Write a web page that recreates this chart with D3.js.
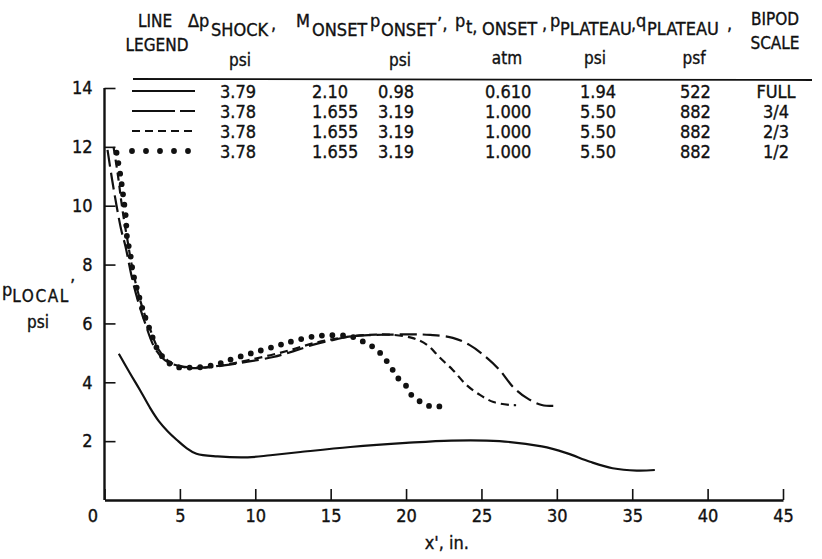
<!DOCTYPE html>
<html>
<head>
<meta charset="utf-8">
<script src="https://cdn.jsdelivr.net/npm/d3@7"></script>
<style>
  html, body { margin: 0; padding: 0; background: #fff; }
  svg { display: block; }
  text { fill: #111; stroke: #111; stroke-width: 0.35; font-family: "DejaVu Sans Condensed", "DejaVu Sans", sans-serif; }
</style>
</head>
<body>
<svg id="chart" width="822" height="559"></svg>
<script>
// ---------------- DATA ----------------
const xTicks = [0, 5, 10, 15, 20, 25, 30, 35, 40, 45];
const yTicks = [2, 4, 6, 8, 10, 12, 14];

// legend table rows
const dpShock   = ["3.79", "3.78", "3.78", "3.78"];
const mOnset    = ["2.10", "1.655", "1.655", "1.655"];
const pOnset    = ["0.98", "3.19", "3.19", "3.19"];
const ptOnset   = ["0.610", "1.000", "1.000", "1.000"];
const pPlateau  = ["1.94", "5.50", "5.50", "5.50"];
const qPlateau  = ["522", "882", "882", "882"];
const bipodScale = ["FULL", "3/4", "2/3", "1/2"];

// series: x' (in.) and p_local (psi)
const fullX = [0.95, 1.7, 2.35, 3.0, 3.6, 4.2, 4.8, 5.4, 6.1, 7.5, 9.5, 11, 13, 16.3, 20, 23, 26.2, 29, 30.6, 32.2, 33.7, 35.3, 36.5];
const fullY = [4.97, 4.3, 3.74, 3.15, 2.68, 2.33, 2.04, 1.78, 1.57, 1.48, 1.45, 1.52, 1.63, 1.8, 1.94, 2.02, 2.0, 1.82, 1.6, 1.3, 1.08, 1.0, 1.02];

const threeQX = [0.2, 0.5, 0.8, 1.1, 1.4, 1.8, 2.2, 2.7, 3.3, 4.0, 5.0, 6.0, 7.0, 8.3, 9.5, 11.2, 12.5, 13.8, 15, 16.1, 17.5, 19, 20.5, 21.6, 23.1, 24.2, 25.3, 26.2, 27.1, 28, 29, 30.1];
const threeQY = [11.9, 10.9, 10.0, 9.2, 8.6, 7.6, 6.8, 6.0, 5.2, 4.75, 4.55, 4.5, 4.52, 4.6, 4.7, 4.86, 5.05, 5.27, 5.42, 5.54, 5.6, 5.62, 5.63, 5.61, 5.51, 5.27, 4.86, 4.42, 3.84, 3.47, 3.23, 3.2];

const twoTX = [0.6, 0.9, 1.1, 1.3, 1.5, 1.8, 2.2, 2.6, 3.1, 3.6, 4.3, 5.2, 6, 7, 8.3, 9.5, 11, 12.5, 13.8, 15, 16.5, 18, 18.9, 20.4, 21.4, 22.2, 23.1, 24, 24.9, 25.8, 26.9, 27.3];
const twoTY = [12.0, 11.0, 10.2, 9.5, 8.9, 8.0, 7.1, 6.4, 5.7, 5.1, 4.7, 4.52, 4.48, 4.52, 4.62, 4.75, 4.92, 5.12, 5.32, 5.45, 5.57, 5.62, 5.62, 5.51, 5.27, 4.86, 4.42, 3.91, 3.57, 3.33, 3.23, 3.22];

const halfX = [0.8, 1.05, 1.2, 1.3, 1.4, 1.45, 1.5, 1.7, 1.9, 2.2, 2.55, 3.0, 3.65, 4.6, 5.5, 6.5, 7.5, 8.3, 9.5, 10.5, 11.5, 12.3, 13.8, 15.1, 16.2, 16.7, 17.4, 18.0, 18.5, 19.0, 19.4, 20, 20.4, 21.1, 21.8, 22.4];
const halfY = [11.8, 11.05, 10.5, 10.1, 9.7, 9.3, 8.9, 8.4, 7.7, 7.1, 6.45, 5.8, 5.0, 4.55, 4.5, 4.52, 4.62, 4.76, 4.95, 5.1, 5.25, 5.37, 5.55, 5.6, 5.57, 5.5, 5.31, 5.14, 4.86, 4.52, 4.18, 3.88, 3.54, 3.3, 3.16, 3.2];

// ---------------- CHART ----------------
const svg = d3.select("#chart");
const x = d3.scaleLinear().domain([0, 45]).range([104.5, 783]);
const y = d3.scaleLinear().domain([0, 14]).range([500, 88]);

const styles = [
  { dash: null, width: 2.2, cap: "butt" },
  { dash: "17 6", width: 2.2, cap: "butt" },
  { dash: "8 5", width: 2.2, cap: "butt" },
  { dash: "0 10.5", width: 5.8, cap: "round" }
];

const series = [
  d3.zip(fullX, fullY),
  d3.zip(threeQX, threeQY),
  d3.zip(twoTX, twoTY),
  d3.zip(halfX, halfY)
];

const line = d3.line().x(d => x(d[0])).y(d => y(d[1])).curve(d3.curveCatmullRom.alpha(0.5));

svg.append("g").selectAll("path").data(series).join("path")
  .attr("d", line)
  .attr("fill", "none")
  .attr("stroke", "#111")
  .attr("stroke-width", (d, i) => styles[i].width)
  .attr("stroke-dasharray", (d, i) => styles[i].dash)
  .attr("stroke-linecap", (d, i) => styles[i].cap);

// axes
const xAxis = d3.axisBottom(x).tickValues(xTicks).tickSizeInner(-11).tickSizeOuter(0).tickPadding(9);
const yAxis = d3.axisLeft(y).tickValues(yTicks).tickSizeInner(-11).tickSizeOuter(0).tickPadding(12);

const gx = svg.append("g").attr("transform", `translate(0,${y(0)})`).call(xAxis);
const gy = svg.append("g").attr("transform", `translate(${x(0)},0)`).call(yAxis);
[gx, gy].forEach(g => {
  g.select(".domain").attr("stroke", "#111").attr("stroke-width", 2.4);
  g.selectAll(".tick line").attr("stroke", "#111").attr("stroke-width", 1.6);
  g.selectAll(".tick text").attr("font-size", 18).attr("fill", "#111")
    .attr("font-family", "'DejaVu Sans Condensed', 'DejaVu Sans', sans-serif");
});
gy.select(".domain").attr("d", `M0,${y(0)}V${y(14)}`);
gx.selectAll(".tick text").filter(d => d === 0).attr("dx", -12);

// axis titles
svg.append("text").attr("x", x(22.7)).attr("y", 549).attr("text-anchor", "middle")
  .attr("font-size", 18).text("x', in.");
const yl = svg.append("text").attr("x", 2).attr("y", 296).attr("font-size", 18);
yl.append("tspan").text("p");
yl.append("tspan").attr("dy", 6).attr("font-size", 17).attr("letter-spacing", 1.6).text("LOCAL");
yl.append("tspan").attr("dy", -10).text("’");
svg.append("text").attr("x", 38).attr("y", 328).attr("text-anchor", "middle").attr("font-size", 17).text("psi");

// ---------------- LEGEND TABLE ----------------
const hdr = svg.append("g");
function ht(xp, yp, s, anchor, fs) {
  hdr.append("text").attr("x", xp).attr("y", yp).attr("text-anchor", anchor || "start")
    .attr("font-size", fs || 18).text(s);
}
ht(155, 27, "LINE", "middle", 17);
ht(157, 51, "LEGEND", "middle", 17);
ht(188, 27, "Δp"); ht(211, 36, "SHOCK"); ht(271, 30, ",");
ht(240, 66, "psi", "middle", 17);
ht(296, 27, "M"); ht(312, 36, "ONSET");
ht(370, 27, "p"); ht(381, 36, "ONSET"); ht(437, 30, "’‚");
ht(400, 66, "psi", "middle", 17);
ht(455, 27, "p"); ht(466, 33, "t,"); ht(482, 35, "ONSET"); ht(542, 30, ",");
ht(507, 64, "atm", "middle", 17);
ht(550, 27, "p"); ht(560, 35, "PLATEAU"); ht(631, 30, ",");
ht(595, 64, "psi", "middle", 17);
ht(636, 27, "q"); ht(647, 35, "PLATEAU"); ht(727, 30, ",");
ht(694, 64, "psf", "middle", 17);
ht(775, 25, "BIPOD", "middle", 17);
ht(775, 49, "SCALE", "middle", 17);

svg.append("line").attr("x1", 133).attr("x2", 812).attr("y1", 79).attr("y2", 80)
  .attr("stroke", "#111").attr("stroke-width", 1.8);

const rowY = d3.scaleBand().domain(d3.range(4)).range([82, 162]);
const rows = svg.append("g").selectAll("g").data(d3.range(4)).join("g")
  .attr("transform", i => `translate(0,${rowY(i) + rowY.bandwidth() / 2})`);

// legend samples
rows.append("line").attr("x1", 132).attr("x2", 195).attr("y1", -1).attr("y2", -1)
  .attr("stroke", "#111")
  .attr("stroke-width", i => styles[i].width)
  .attr("stroke-dasharray", i => ["", "43 5 20", "8 5", "0 14"][i])
  .attr("stroke-linecap", i => styles[i].cap);

const cols = [
  { arr: dpShock, x: 220, anchor: "start" },
  { arr: mOnset, x: 312, anchor: "start" },
  { arr: pOnset, x: 378, anchor: "start" },
  { arr: ptOnset, x: 485, anchor: "start" },
  { arr: pPlateau, x: 580, anchor: "start" },
  { arr: qPlateau, x: 680, anchor: "start" },
  { arr: bipodScale, x: 776, anchor: "middle" }
];
cols.forEach(c => {
  rows.append("text").attr("x", c.x).attr("y", 6).attr("text-anchor", c.anchor)
    .attr("font-size", 18).text(i => c.arr[i]);
});
</script>
</body>
</html>
